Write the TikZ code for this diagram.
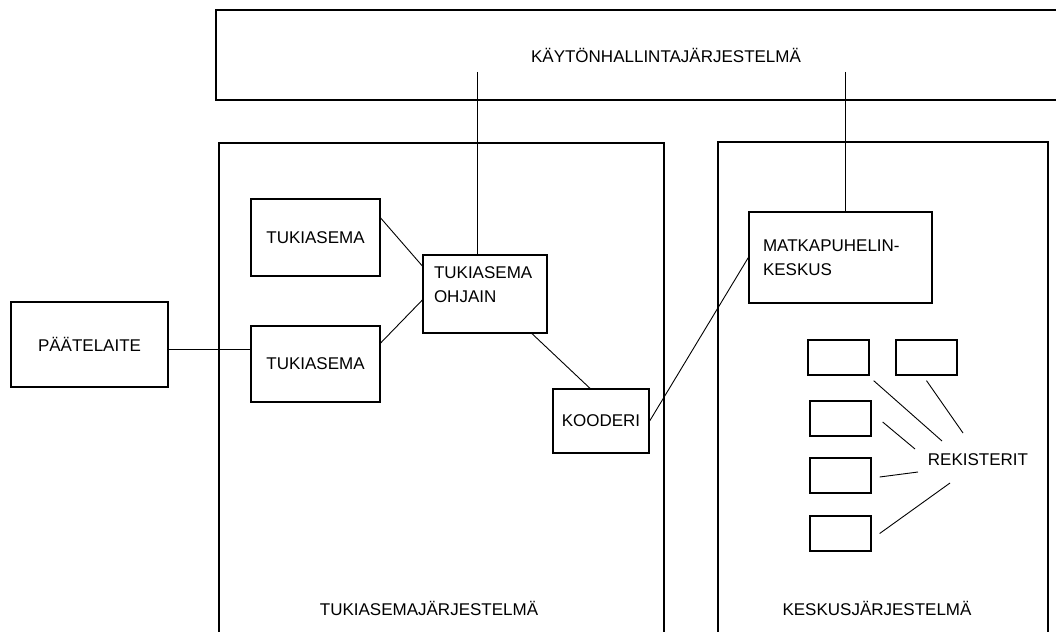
\documentclass[tikz,border=0pt]{standalone}
\usepackage{fontspec}
\setmainfont{Liberation Sans}
\begin{document}
\begin{tikzpicture}[x=1pt,y=-1pt,
    box/.style={draw,line width=1.3pt,inner sep=0pt},
    rekisteri/.style={box,minimum width=61pt,minimum height=35pt},
    yhteys/.style={line width=0.9pt},
    font=\fontsize{17}{24}\selectfont]
  \clip (0,0) rectangle (1056,631);
  % jarjestelmat
  \path (666,55) node [box,minimum width=900pt,minimum height=90pt](hallinta){KÄYTÖNHALLINTAJÄRJESTELMÄ};
  \path (441.5,421.5) node [box,minimum width=445pt,minimum height=557pt](tukiasemajarj){};
  \path (883,421) node [box,minimum width=330pt,minimum height=558pt](keskusjarj){};
  \path (429,608) node (tukiasemajarj-nimi){TUKIASEMAJÄRJESTELMÄ};
  \path (877,608) node (keskusjarj-nimi){KESKUSJÄRJESTELMÄ};
  % laitteet
  \path (89.5,344.5) node [box,minimum width=157pt,minimum height=85pt](paatelaite){PÄÄTELAITE};
  \path (315.5,237.5) node [box,minimum width=129pt,minimum height=77pt](tukiasema1){TUKIASEMA};
  \path (315.5,364) node [box,minimum width=129pt,minimum height=76pt](tukiasema2){TUKIASEMA};
  \path (485,294) node [box,minimum width=124pt,minimum height=78pt,inner xsep=11pt,text width=102pt,align=left,text depth=42pt](ohjain){TUKIASEMA\\OHJAIN};
  \path (601,421) node [box,minimum width=96pt,minimum height=64pt](kooderi){KOODERI};
  \path (840.5,257.5) node [box,minimum width=183pt,minimum height=91pt,inner xsep=14pt,text width=155pt,align=left](keskus){MATKAPUHELIN-\\KESKUS};
  \path (838.5,357.5) node [rekisteri](rek1){} (926.5,357.5) node [rekisteri](rek2){}
    (840.5,418.5) node [rekisteri](rek3){} (840.5,475.5) node [rekisteri](rek4){}
    (840.5,533.5) node [rekisteri](rek5){};
  \path (978,460) node (rekisterit){REKISTERIT};
  % yhteydet
  \coordinate (hallinta-a) at (477,72);
  \coordinate (hallinta-b) at (845,72);
  \draw[yhteys] (hallinta-a) -- (hallinta-a |- ohjain.north);
  \draw[yhteys] (hallinta-b) -- (hallinta-b |- keskus.north);
  \draw[yhteys] ([yshift=-5pt]paatelaite.east) -- ([yshift=-5pt]paatelaite.east -| tukiasema2.west);
  \draw[yhteys] ([yshift=19.5pt]tukiasema1.east) -- ([yshift=28pt]ohjain.west);
  \draw[yhteys] ([yshift=21pt]tukiasema2.east) -- ([yshift=-6pt]ohjain.west);
  \draw[yhteys] ([xshift=47pt]ohjain.south) -- ([xshift=-11pt]kooderi.north);
  \draw[yhteys] (kooderi.east) -- (keskus.west);
  \draw[yhteys] ([shift={(4,5)}]rek1.south east) -- ([shift={(-36,-19)}]rekisterit.center);
  \draw[yhteys] ([shift={(0,5)}]rek2.south) -- ([shift={(-15,-27)}]rekisterit.center);
  \draw[yhteys] ([shift={(11,3.5)}]rek3.east) -- ([shift={(-63,-11)}]rekisterit.center);
  \draw[yhteys] ([shift={(8,1.5)}]rek4.east) -- ([shift={(-60,12)}]rekisterit.center);
  \draw[yhteys] ([shift={(8,0)}]rek5.east) -- ([shift={(-28,23)}]rekisterit.center);
\end{tikzpicture}
\end{document}
